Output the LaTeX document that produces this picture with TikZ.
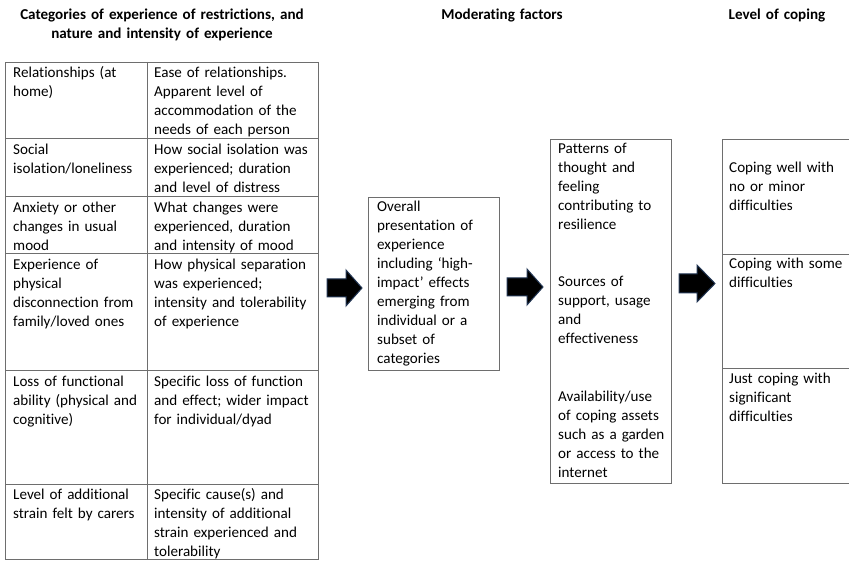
\documentclass[tikz,border=0pt]{standalone}
\usepackage{fontspec}
\setmainfont{Carlito}[Ligatures=NoCommon]
\definecolor{linegray}{RGB}{110,110,110}
\definecolor{arrowedge}{RGB}{35,55,85}
\tikzset{
  txt/.style={anchor=base west, inner sep=0pt, text width=200pt, align=left,
    font=\fontsize{15.1}{19}\selectfont},
  hdr/.style={anchor=base, inner sep=0pt, text width=330pt, align=center,
    font=\fontsize{15.1}{19}\selectfont\bfseries},
  boxframe/.style={draw=linegray, line width=1pt, inner sep=0pt, anchor=north west},
  tline/.style={draw=linegray, line width=1pt},
  blockarrow/.style={fill=black, draw=arrowedge, line width=1pt, line join=miter}
}
\begin{document}
\begin{tikzpicture}[x=1pt, y=-1pt]
\useasboundingbox (0,0) rectangle (849,561);
\clip (0,0) rectangle (849,561);
\fill[white] (0,0) rectangle (849,561);

% headers
\node[hdr] (h1) at (162,20) {Categories of experience of restrictions, and\\nature and intensity of experience};
\node[hdr] (h2) at (502,20) {Moderating factors};
\node[hdr] (h3) at (777,20) {Level of coping};

% table frame
\node[boxframe, minimum width=313pt, minimum height=497pt] (tab) at (5,62) {};
\draw[tline] (147,62) -- (147,559);
\foreach \yy in {139,197,254,371,484} \draw[tline] (5,\yy) -- (318,\yy);

% table text
\node[txt] (c1a) at (13,78) {Relationships (at\\home)};
\node[txt] (c1b) at (154,78) {Ease of relationships.\\Apparent level of\\accommodation of the\\needs of each person};
\node[txt] (c2a) at (13,155) {Social\\isolation/loneliness};
\node[txt] (c2b) at (154,155) {How social isolation was\\experienced; duration\\and level of distress};
\node[txt] (c3a) at (13,213) {Anxiety or other\\changes in usual\\mood};
\node[txt] (c3b) at (154,213) {What changes were\\experienced, duration\\and intensity of mood};
\node[txt] (c4a) at (13,270) {Experience of\\physical\\disconnection from\\family/loved ones};
\node[txt] (c4b) at (154,270) {How physical separation\\was experienced;\\intensity and tolerability\\of experience};
\node[txt] (c5a) at (13,387) {Loss of functional\\ability (physical and\\cognitive)};
\node[txt] (c5b) at (154,387) {Specific loss of function\\and effect; wider impact\\for individual/dyad};
\node[txt] (c6a) at (13,499) {Level of additional\\strain felt by carers};
\node[txt] (c6b) at (154,499) {Specific cause(s) and\\intensity of additional\\strain experienced and\\tolerability};

% overall box
\node[boxframe, minimum width=131pt, minimum height=173pt] (ov) at (368,197) {};
\node[txt] (ovt) at (377,212) {Overall\\presentation of\\experience\\including `high-\\impact' effects\\emerging from\\individual or a\\subset of\\categories};

% moderating box
\node[boxframe, minimum width=121pt, minimum height=344pt] (mod) at (550,139) {};
\node[txt] (m1) at (558,154) {Patterns of\\thought and\\feeling\\contributing to\\resilience};
\node[txt] (m2) at (558,287) {Sources of\\support, usage\\and\\effectiveness};
\node[txt] (m3) at (558,402) {Availability/use\\of coping assets\\such as a garden\\or access to the\\internet};

% coping box
\node[boxframe, minimum width=150pt, minimum height=344pt] (cope) at (722,139) {};
\draw[tline] (722,255) -- (870,255);
\draw[tline] (722,369) -- (870,369);
\node[txt] (k1) at (729,173) {Coping well with\\no or minor\\difficulties};
\node[txt] (k2) at (729,269) {Coping with some\\difficulties};
\node[txt] (k3) at (729,384) {Just coping with\\significant\\difficulties};

% block arrows
\draw[blockarrow] (327,279) -- (346,279) -- (346,270) -- (362,288) -- (346,306) -- (346,297) -- (327,297) -- cycle;
\draw[blockarrow] (507,278) -- (527,278) -- (527,269) -- (543,287) -- (527,305) -- (527,296) -- (507,296) -- cycle;
\draw[blockarrow] (679,274) -- (697,274) -- (697,265) -- (715,283.5) -- (697,302) -- (697,293) -- (679,293) -- cycle;
\end{tikzpicture}
\end{document}
